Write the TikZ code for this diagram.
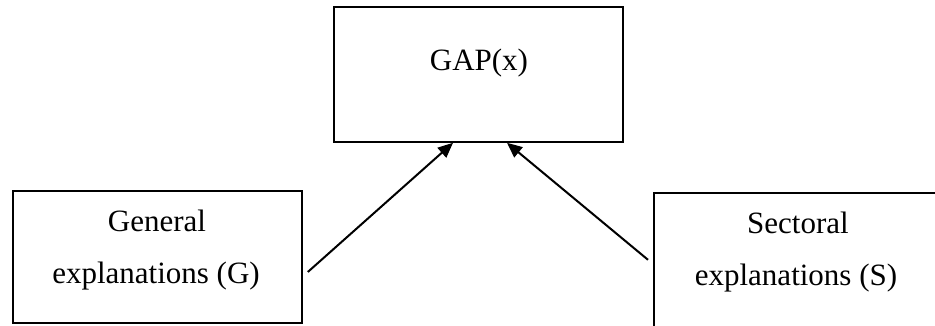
\documentclass[tikz,border=0pt]{standalone}
\usepackage{fontspec}
\setmainfont{Liberation Serif}
\usetikzlibrary{arrows.meta}
\begin{document}
\begin{tikzpicture}[x=1pt,y=1pt,
  boxstyle/.style={draw=black,line width=1.6pt,rectangle,inner sep=0pt,fill=white},
  txt/.style={font=\fontsize{31}{37}\selectfont,anchor=base,inner sep=0pt},
  arr/.style={line width=2pt,-{Triangle[length=15pt,width=13pt]}}]
\useasboundingbox (0,0) rectangle (935,325);
\clip (0,0) rectangle (935,325);
\node[boxstyle,minimum width=289pt,minimum height=135pt] (gap) at (478.5,250.5) {};
\node[boxstyle,minimum width=289pt,minimum height=132pt] (gen) at (157.5,68) {};
\node[boxstyle,minimum width=289pt,minimum height=150pt,anchor=north west] (sec) at (653,133) {};
\node[txt] (gaptxt) at (479,255) {GAP(x)};
\node[txt] (gen1) at (157,94) {General};
\node[txt] (gen2) at (156,42) {explanations (G)};
\node[txt] (sec1) at (798,92) {Sectoral};
\node[txt] (sec2) at (796,40) {explanations (S)};
\coordinate (gstart) at ([shift={(5,-15)}]gen.east);
\coordinate (sstart) at ([shift={(-5,8)}]sec.west);
\draw[arr] (gstart) -- ([xshift=-25.5pt]gap.south);
\draw[arr] (sstart) -- ([xshift=28.5pt]gap.south);
\end{tikzpicture}
\end{document}
